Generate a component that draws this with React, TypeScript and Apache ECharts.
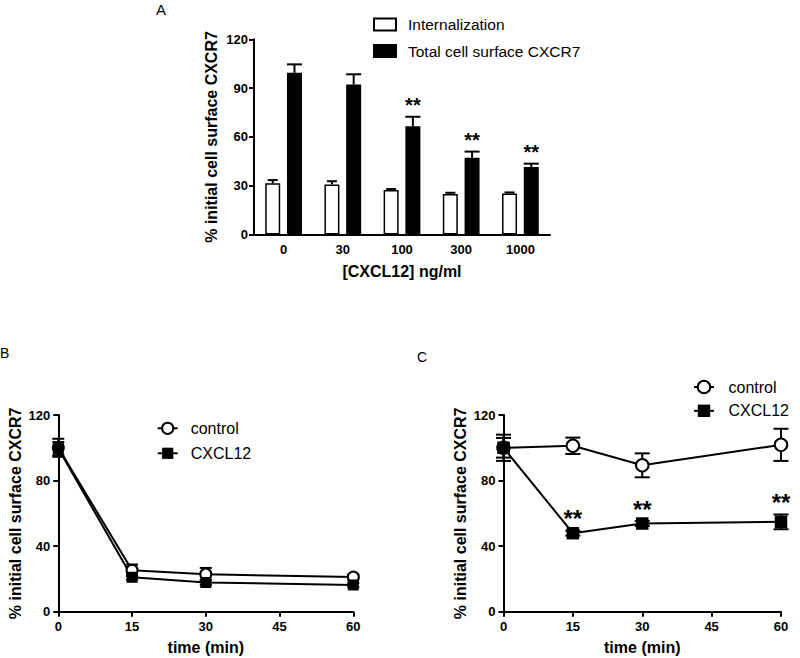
import { useEffect, useRef } from 'react';
import * as echarts from 'echarts';

const FONT = '"Liberation Sans", Arial, Helvetica, sans-serif';

// panel A: CXCL12 dose response
const doses = ['0', '30', '100', '300', '1000'];
const internalization = [31.5, 30.8, 27.4, 24.9, 25.3];
const internalizationErr = [2, 2, 0.6, 0.8, 0.6];
const totalSurface = [99.4, 92.2, 66.6, 47.2, 41.5];
const totalSurfaceErr = [5.2, 6.3, 5.8, 3.8, 2.1];
const totalSig = ['', '', '**', '**', '**'];

// panel B / C: time course
const times = [0, 15, 30, 60];
const bControl = [100, 25.3, 22.9, 21.1];
const bControlErr = [5.5, 3.5, 3.8, 1.5];
const bCxcl12 = [99.5, 21, 17.8, 16.3];
const bCxcl12Err = [4, 1.5, 1.5, 1.2];
const cControl = [100, 101.2, 89.3, 101.8];
const cControlErr = [6, 5, 7.3, 9.8];
const cCxcl12 = [100, 47.9, 53.8, 54.8];
const cCxcl12Err = [8, 1.5, 1.5, 4.5];
const cSig = ['', '**', '**', '**'];

const yTitle = '% initial cell surface CXCR7';

const BAR_W = 15;
const BAR_GAP = 0.45;
const barShift = (BAR_W * (1 + BAR_GAP)) / 2;

const black = { color: '#000', width: 2 };

const starText = (x: number, y: number, text: string, size: number) => ({
  type: 'text',
  x,
  y,
  style: {
    text,
    fill: '#000',
    fontSize: size,
    fontWeight: 'bold',
    fontFamily: FONT,
    align: 'center',
    verticalAlign: 'middle',
  },
});

// upward-only error bars on top of the bars
const barErrors = (values: number[], errs: number[], shift: number, cap: number, sig?: string[]) => ({
  type: 'custom',
  xAxisIndex: 0,
  yAxisIndex: 0,
  z: 4,
  data: values.map((v, i) => [i, v, errs[i]]),
  renderItem: (params: any, api: any) => {
    const i = api.value(0);
    const v = api.value(1);
    const e = api.value(2);
    const base = api.coord([i, v]);
    const top = api.coord([i, v + e]);
    const x = base[0] + shift;
    const style = { stroke: '#000', lineWidth: 2 };
    const children: any[] = [
      { type: 'line', shape: { x1: x, y1: base[1], x2: x, y2: top[1] }, style },
      { type: 'line', shape: { x1: x - cap, y1: top[1], x2: x + cap, y2: top[1] }, style },
    ];
    const mark = sig ? sig[params.dataIndex] : '';
    if (mark) children.push(starText(x, top[1] - 12, mark, 20));
    return { type: 'group', children };
  },
});

// symmetric error bars for the time courses
const lineErrors = (axis: number, values: number[], errs: number[], cap: number, sig?: string[]) => ({
  type: 'custom',
  xAxisIndex: axis,
  yAxisIndex: axis,
  z: 2,
  data: values.map((v, i) => [times[i], v, errs[i]]),
  renderItem: (params: any, api: any) => {
    const t = api.value(0);
    const v = api.value(1);
    const e = api.value(2);
    const top = api.coord([t, v + e]);
    const bot = api.coord([t, v - e]);
    const x = top[0];
    const style = { stroke: '#000', lineWidth: 2 };
    const children: any[] = [
      { type: 'line', shape: { x1: x, y1: bot[1], x2: x, y2: top[1] }, style },
      { type: 'line', shape: { x1: x - cap, y1: top[1], x2: x + cap, y2: top[1] }, style },
      { type: 'line', shape: { x1: x - cap, y1: bot[1], x2: x + cap, y2: bot[1] }, style },
    ];
    const mark = sig ? sig[params.dataIndex] : '';
    if (mark) children.push(starText(x, top[1] - 12, mark, 24));
    return { type: 'group', children };
  },
});

const tickLabel = { color: '#000', fontSize: 13, fontWeight: 'bold', fontFamily: FONT };
const nameStyle = { color: '#000', fontSize: 16, fontWeight: 'bold', fontFamily: FONT };

const timeAxis = (gridIndex: number) => ({
  gridIndex,
  type: 'value',
  min: 0,
  max: 60,
  interval: 15,
  axisLine: { lineStyle: black },
  axisTick: { show: true, length: 5, lineStyle: black },
  axisLabel: { ...tickLabel, margin: 8 },
  splitLine: { show: false },
  name: 'time (min)',
  nameLocation: 'middle',
  nameGap: 28,
  nameTextStyle: nameStyle,
});

const percentAxis = (gridIndex: number, interval: number, margin: number) => ({
  gridIndex,
  type: 'value',
  min: 0,
  max: 120,
  interval,
  axisLine: { show: true, lineStyle: black },
  axisTick: { show: true, length: 5, lineStyle: black },
  axisLabel: { ...tickLabel, margin },
  splitLine: { show: false },
  name: yTitle,
  nameLocation: 'middle',
  nameRotate: 90,
  nameGap: 35,
  nameTextStyle: nameStyle,
});

const lineSeries = (axis: number, name: string, values: number[], size: number) => ({
  type: 'line',
  name,
  xAxisIndex: axis,
  yAxisIndex: axis,
  z: 3,
  data: values.map((v, i) => [times[i], v]),
  symbol: name === 'control' ? 'circle' : 'rect',
  symbolSize: size,
  itemStyle:
    name === 'control'
      ? { color: '#fff', borderColor: '#000', borderWidth: 2 }
      : { color: '#000', borderWidth: 0 },
  lineStyle: black,
});

const legendText = (pad: number) => ({ color: '#000', fontSize: 16, fontFamily: FONT, padding: [0, 0, 0, pad] });

const App = () => {
  const chartRef = useRef<HTMLDivElement>(null);

  useEffect(() => {
    document.body.style.margin = '0';
    if (!chartRef.current) return;
    const chart = echarts.init(chartRef.current, null as any, { renderer: 'svg' });

    chart.setOption({
      animation: false,
      backgroundColor: '#fff',
      textStyle: { fontFamily: FONT },
      graphic: [
        { type: 'text', left: 156, top: 2, style: { text: 'A', fill: '#000', fontSize: 15, fontFamily: FONT } },
        { type: 'text', left: 0, top: 346, style: { text: 'B', fill: '#000', fontSize: 14, fontFamily: FONT } },
        { type: 'text', left: 417, top: 350, style: { text: 'C', fill: '#000', fontSize: 14, fontFamily: FONT } },
      ],
      grid: [
        { left: 254, top: 39.3, width: 296, height: 195.3 },
        { left: 58.3, top: 415, width: 295, height: 196.7 },
        { left: 503.5, top: 415, width: 277.5, height: 196.7 },
      ],
      legend: [
        {
          orient: 'vertical',
          left: 373,
          top: 16.5,
          padding: 0,
          itemWidth: 22,
          itemHeight: 12,
          itemGap: 10.5,
          icon: 'rect',
          selectedMode: false,
          data: ['Internalization', 'Total cell surface CXCR7'],
          itemStyle: { borderColor: '#000', borderWidth: 2 },
          textStyle: { ...legendText(7), fontSize: 15.5 },
        },
        {
          orient: 'vertical',
          left: 156.7,
          top: 420.3,
          padding: 0,
          itemWidth: 20,
          itemHeight: 14,
          itemGap: 9,
          selectedMode: false,
          data: ['control', 'CXCL12'],
          textStyle: legendText(8),
        },
        {
          orient: 'vertical',
          left: 693,
          top: 379,
          padding: 0,
          itemWidth: 20,
          itemHeight: 15.5,
          itemGap: 7.8,
          selectedMode: false,
          data: ['control', 'CXCL12'],
          textStyle: legendText(9.5),
        },
      ],
      xAxis: [
        {
          gridIndex: 0,
          type: 'category',
          data: doses,
          axisLine: { lineStyle: black },
          axisTick: { show: false },
          axisLabel: { ...tickLabel, margin: 8 },
          name: '[CXCL12] ng/ml',
          nameLocation: 'middle',
          nameGap: 29,
          nameTextStyle: nameStyle,
        },
        timeAxis(1),
        timeAxis(2),
      ],
      yAxis: [percentAxis(0, 30, 6), percentAxis(1, 40, 8), percentAxis(2, 40, 8)],
      series: [
        {
          type: 'bar',
          name: 'Internalization',
          xAxisIndex: 0,
          yAxisIndex: 0,
          data: internalization,
          barWidth: BAR_W,
          barGap: `${BAR_GAP * 100}%`,
          itemStyle: { color: '#fff', borderColor: '#000', borderWidth: 1.5 },
        },
        {
          type: 'bar',
          name: 'Total cell surface CXCR7',
          xAxisIndex: 0,
          yAxisIndex: 0,
          data: totalSurface,
          barWidth: BAR_W,
          itemStyle: { color: '#000', borderColor: '#000', borderWidth: 1.5 },
        },
        barErrors(internalization, internalizationErr, -barShift, 5),
        barErrors(totalSurface, totalSurfaceErr, barShift, 7.5, totalSig),

        lineErrors(1, bControl, bControlErr, 6),
        lineErrors(1, bCxcl12, bCxcl12Err, 6),
        lineSeries(1, 'control', bControl, 11),
        lineSeries(1, 'CXCL12', bCxcl12, 11),

        lineErrors(2, cControl, cControlErr, 7.5),
        lineErrors(2, cCxcl12, cCxcl12Err, 7.5, cSig),
        lineSeries(2, 'control', cControl, 12.5),
        lineSeries(2, 'CXCL12', cCxcl12, 12.5),
      ],
    } as any);

    return () => {
      chart.dispose();
    };
  }, []);

  return <div ref={chartRef} style={{ position: 'absolute', left: 0, top: 0, width: 800, height: 658 }} />;
};

export default App;
